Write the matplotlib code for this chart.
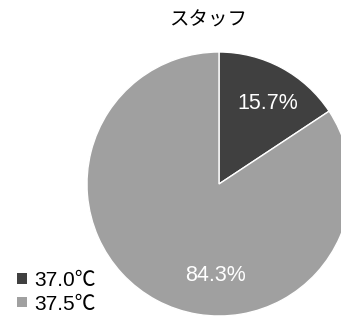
import matplotlib.pyplot as plt
from matplotlib.patches import Patch

plt.rcParams['font.family'] = ['Liberation Sans', 'Noto Sans CJK JP', 'DejaVu Sans']

title = 'スタッフ'
labels = ['37.0℃', '37.5℃']
values = [15.7, 84.3]
colors = ['#404040', '#a0a0a0']

W, H = 341, 317
fig = plt.figure(figsize=(W / 100, H / 100), dpi=100)
ax = fig.add_axes([0, 0, 1, 1])

cx, cy, r = 219, H - 184, 132
wedges, _ = ax.pie(values, colors=colors, startangle=90, counterclock=False,
                   center=(cx, cy), radius=r, frame=True,
                   wedgeprops=dict(edgecolor='white', linewidth=1))
ax.set_xlim(0, W)
ax.set_ylim(0, H)
ax.axis('off')

# データラベル
ax.text(cx + 0.37 * r, cy + 0.61 * r, f'{values[0]}%', color='white',
        fontsize=15.5, ha='center', va='center')
ax.text(cx - 0.03 * r, cy - 0.69 * r, f'{values[1]}%', color='white',
        fontsize=15.5, ha='center', va='center')

ax.text(cx - 11, H - 20, title, fontsize=14, ha='center', va='center',
        family=['Noto Sans CJK JP'])

handles = [Patch(facecolor=c, edgecolor='none') for c in colors]
fig.legend(handles, labels, loc='lower left', bbox_to_anchor=(0.006, -0.035),
           frameon=False, fontsize=15, handlelength=0.5, handleheight=0.4,
           handletextpad=0.35, labelspacing=0.22, borderpad=0.2)

fig.savefig('out.png', dpi=100)
